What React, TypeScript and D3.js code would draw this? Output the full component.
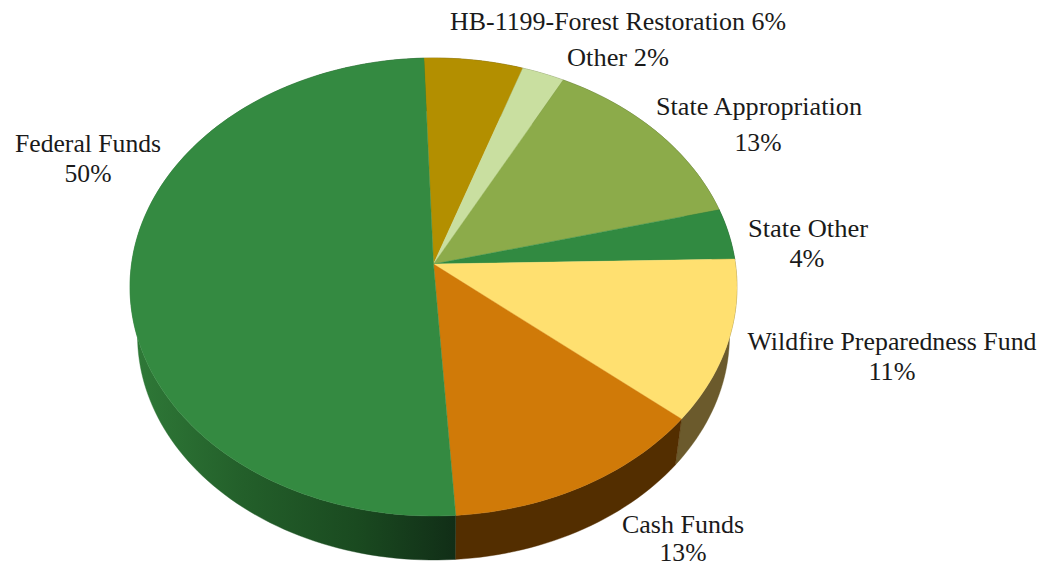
import React from "react";
import * as d3 from "d3";

// Data
const categories = ["HB-1199-Forest Restoration", "Other", "State Appropriation", "State Other", "Wildfire Preparedness Fund", "Cash Funds", "Federal Funds"];
const shares = [5.8, 2.5, 13.3, 3.6, 11.4, 12.9, 50.5];
const shownPercent = ["6%", "2%", "13%", "4%", "11%", "13%", "50%"];
const topColors = ["#b38f00", "#c9dfa0", "#8cab4a", "#318a41", "#ffe070", "#d07a08", "#348a41"];
const wallColors = ["#5a4800", "#65704f", "#465625", "#184520", "#6b5a2c", "#532e00", "url(#fedWall)"];

// Layout
const W = 1047, H = 565;
const top = { cx: 433.5, cy: 287, rx: 303.5, ry: 229 };
const bottom = { cx: 433.5, cy: 335.5, rx: 296, ry: 224.5 };
const k = -0.1; // perspective: shifts the pie's centre up inside the ellipse
const startDeg = -2;
const rad = Math.PI / 180;

type Ell = typeof top;
const project = (e: Ell, u: number, v: number): [number, number] => {
  const x = d3.scaleLinear().domain([-1, 1]).range([e.cx - e.rx, e.cx + e.rx]);
  const y = d3.scaleLinear().domain([-1, 1]).range([e.cy - e.ry, e.cy + e.ry]);
  const d = 1 + k * v;
  return [x((u * Math.sqrt(1 - k * k)) / d), y((v + k) / d)];
};
const rim = (e: Ell, a0: number, a1: number): [number, number][] => {
  const n = Math.max(2, Math.ceil(((a1 - a0) / rad) / 1.5));
  return d3.range(n + 1).map((i) => {
    const a = a0 + ((a1 - a0) * i) / n;
    return project(e, Math.sin(a), -Math.cos(a));
  });
};

const arcs = d3
  .pie<number>()
  .sort(null)
  .startAngle(startDeg * rad)
  .endAngle((startDeg + 360) * rad)(shares);
const line = d3.line();

type Lab = { x: number; y: number; w: number; text: string };
const labels: Lab[] = [
  { x: 618, y: 30, w: 336, text: `${categories[0]} ${shownPercent[0]}` },
  { x: 618, y: 66, w: 102, text: `${categories[1]} ${shownPercent[1]}` },
  { x: 759, y: 115, w: 206, text: categories[2] },
  { x: 758, y: 151, w: 47, text: shownPercent[2] },
  { x: 808, y: 237, w: 120, text: categories[3] },
  { x: 807, y: 267, w: 35, text: shownPercent[3] },
  { x: 892, y: 350, w: 289, text: categories[4] },
  { x: 892, y: 380, w: 47, text: shownPercent[4] },
  { x: 683, y: 533, w: 122, text: categories[5] },
  { x: 683, y: 561, w: 47, text: shownPercent[5] },
  { x: 88, y: 152, w: 146, text: categories[6] },
  { x: 88, y: 182, w: 47, text: shownPercent[6] },
];

export default function App() {
  return (
    <svg width={W} height={H} viewBox={`0 0 ${W} ${H}`} style={{ position: "absolute", left: 0, top: 0, display: "block", background: "#fff" }}>
      <defs>
        <linearGradient id="fedWall" gradientUnits="userSpaceOnUse" x1={130} y1={0} x2={455} y2={0}>
          <stop offset="0" stopColor="#2f7a38" />
          <stop offset="0.35" stopColor="#235f2a" />
          <stop offset="0.7" stopColor="#1a4a20" />
          <stop offset="1" stopColor="#112e17" />
        </linearGradient>
      </defs>
      <g>
        {arcs.map((d, i) => (
          <path
            key={"wall" + i}
            d={line([...rim(top, d.startAngle, d.endAngle), ...rim(bottom, d.startAngle, d.endAngle).reverse()]) + "Z"}
            fill={wallColors[d.index]}
            stroke={wallColors[d.index]}
            strokeWidth={0.4}
          />
        ))}
      </g>
      <g>
        {arcs.map((d, i) => (
          <path
            key={"top" + i}
            d={line([project(top, 0, 0), ...rim(top, d.startAngle, d.endAngle)]) + "Z"}
            fill={topColors[d.index]}
            stroke={topColors[d.index]}
            strokeWidth={0.4}
          />
        ))}
      </g>
      <g fontFamily="'Liberation Serif', serif" fontSize={24.5} fill="#1a1a1a" textAnchor="middle">
        {labels.map((l) => (
          <text key={l.text + l.y} x={l.x} y={l.y} textLength={l.w} lengthAdjust="spacingAndGlyphs">
            {l.text}
          </text>
        ))}
      </g>
    </svg>
  );
}
